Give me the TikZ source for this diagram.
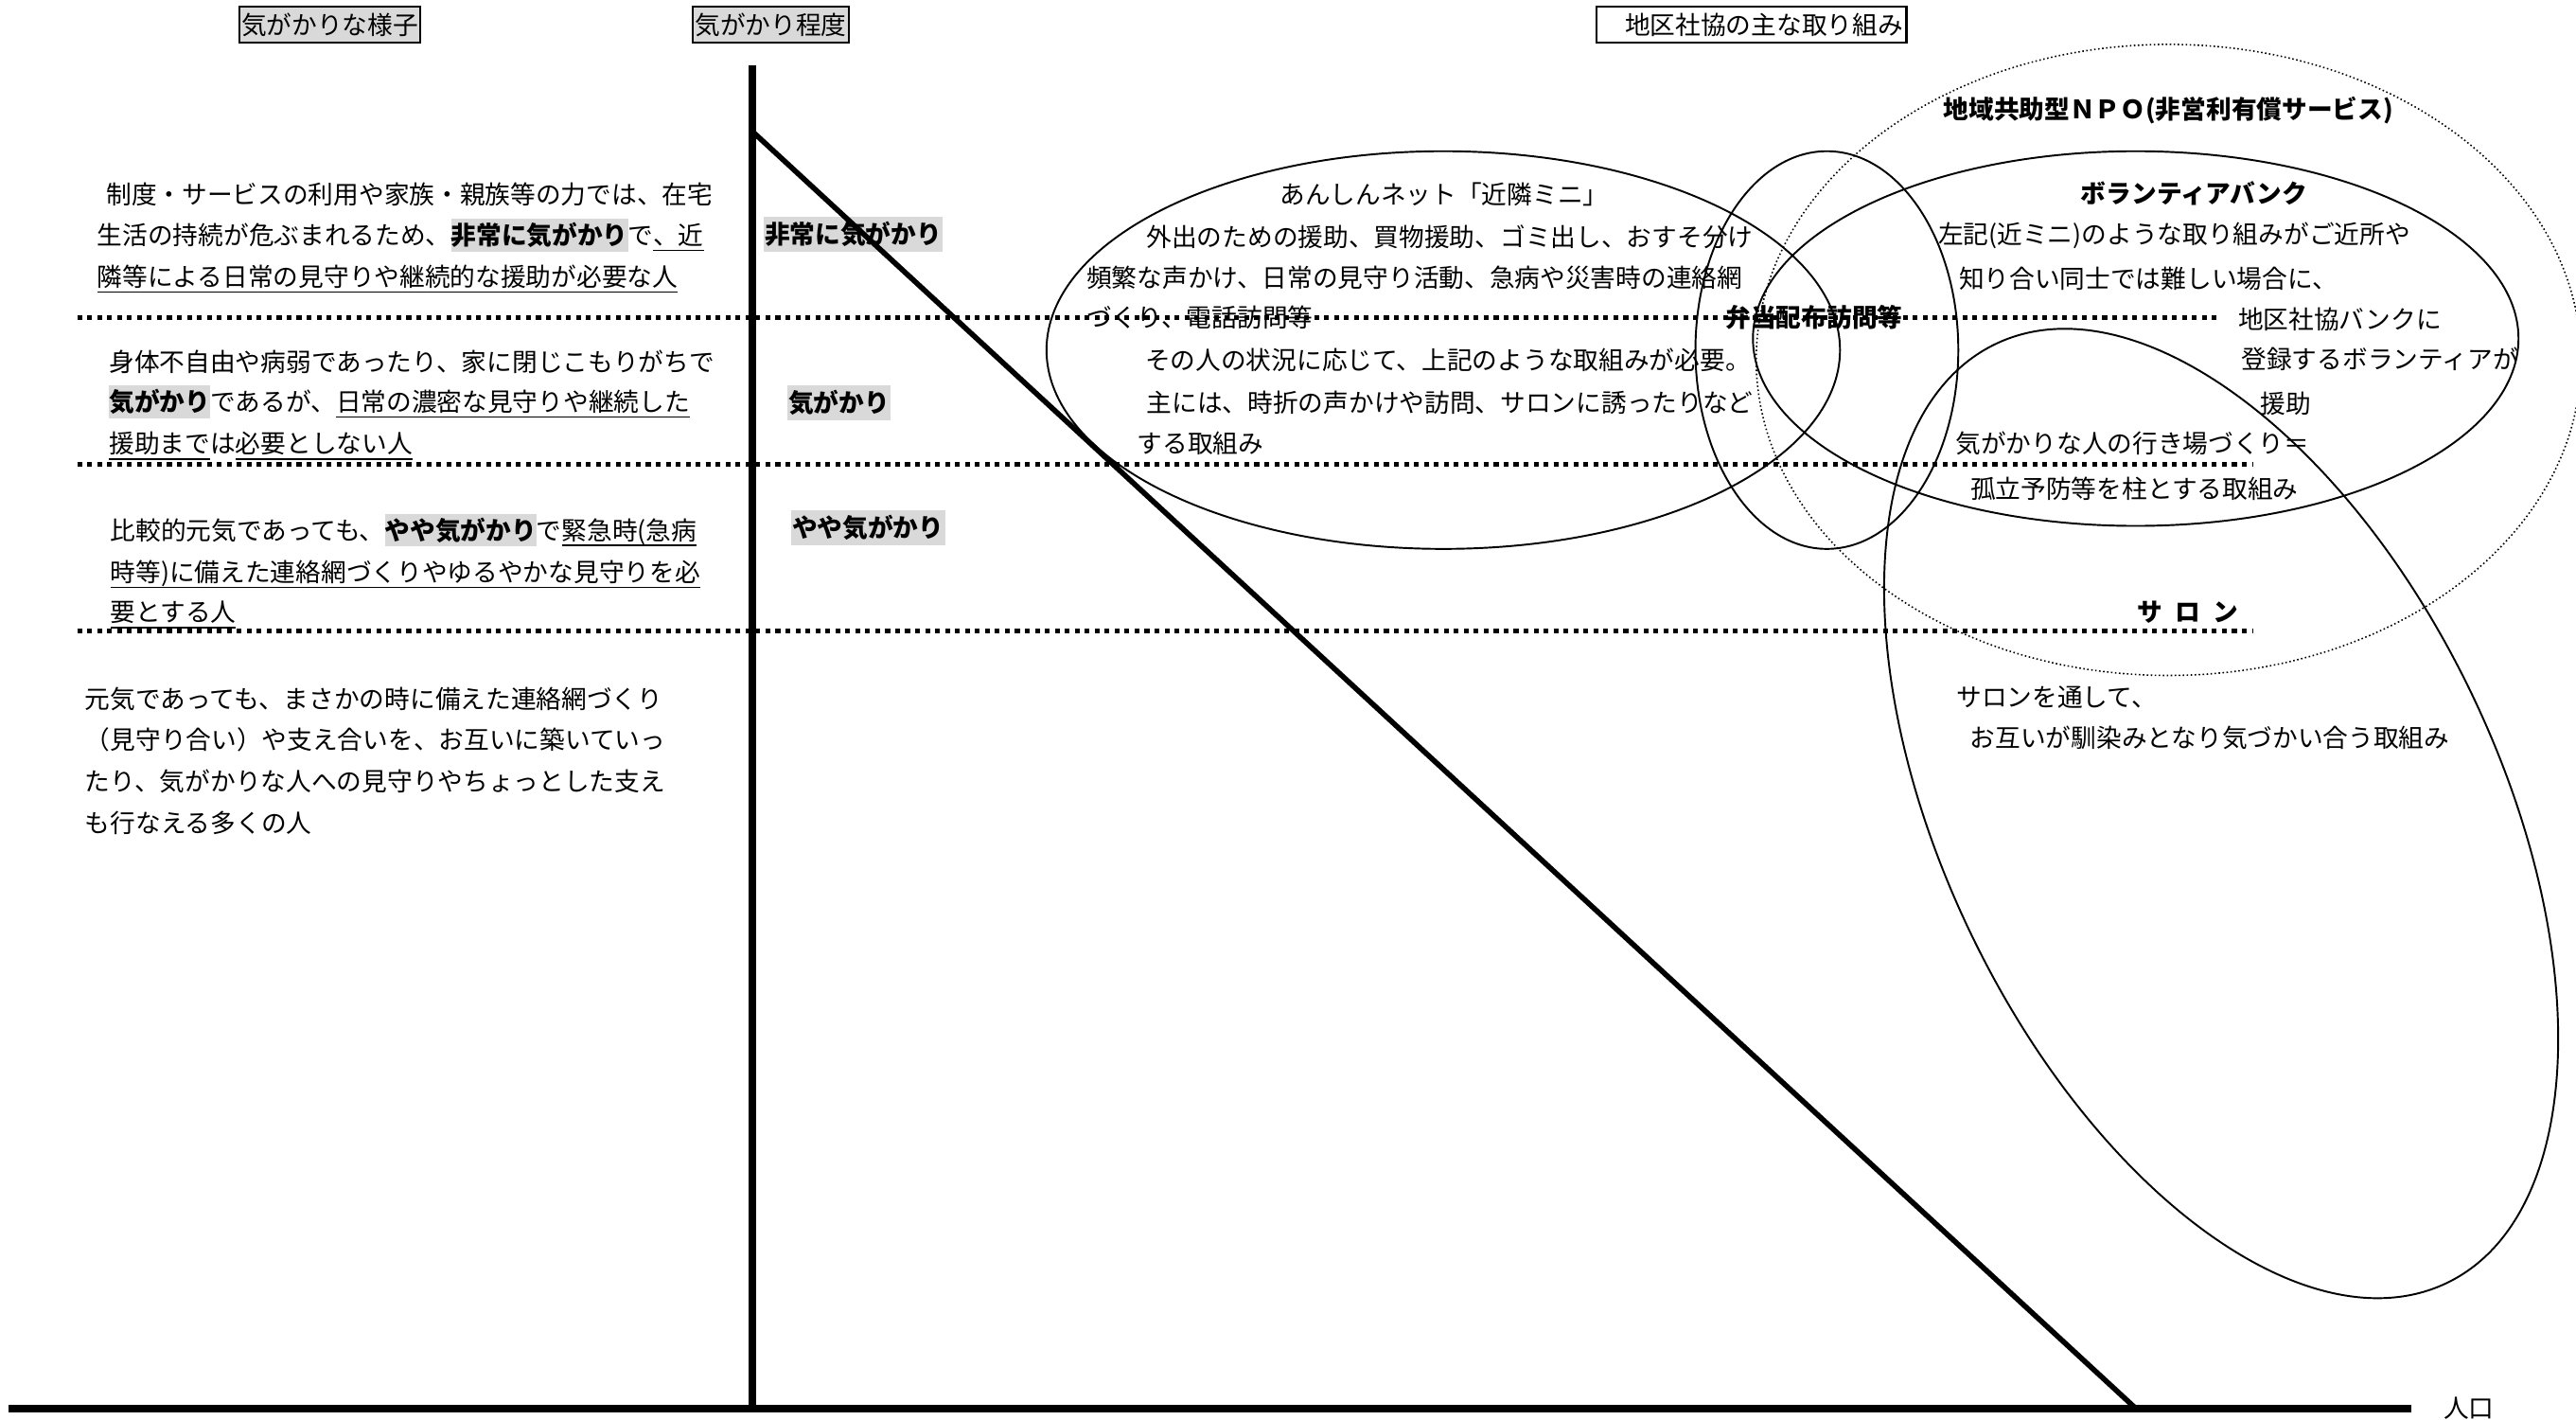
\documentclass[tikz,border=0pt]{standalone}
\usepackage{fontspec}
\setmainfont{Noto Sans CJK JP}
\definecolor{hl}{HTML}{D9D9D9}
\newcommand\ulx[1]{\underline{\smash{#1}\rule[-0.04em]{0pt}{0.85em}}}
\newcommand\hlb[1]{{\setlength\fboxsep{0pt}\colorbox{hl}{\rule[-0.27em]{0pt}{1.29em}\bfseries #1}}}
\begin{document}
\begin{tikzpicture}[x=0.01736cm,y=-0.01736cm,
  txt/.style={inner sep=0pt,anchor=base west,font=\fontsize{7.6pt}{12.6pt}\selectfont},
  txtc/.style={txt,anchor=base},
  bold/.style={font=\fontsize{7.6pt}{12.6pt}\selectfont\bfseries},
  hdr/.style={txt,draw,line width=0.7pt,inner xsep=0.6pt,inner ysep=0pt},
  mid/.style={txt,fill=hl,inner xsep=0.4pt,inner ysep=0pt,font=\fontsize{7.6pt}{12.6pt}\selectfont\bfseries},
  ell/.style={line width=0.55pt},
  sep/.style={line width=1.5pt,dash pattern=on 1.45pt off 1.55pt},
  npo/.style={line width=0.45pt,dash pattern=on 0.45pt off 0.75pt},
  axis/.style={line width=2.2pt},
  diag/.style={line width=1.6pt}]
\useasboundingbox (0,0) rectangle (1568,864);
% headers
\node[hdr,fill=hl] (h1) at (145,20.9) {\rule[-0.335em]{0pt}{1.43em}気がかりな様子};
\node[hdr,fill=hl,inner xsep=0.65pt] (h2) at (421,20.9) {\rule[-0.335em]{0pt}{1.43em}気がかり程度};
\node[hdr,inner xsep=1pt] (h3) at (971,20.9) {\rule[-0.335em]{0pt}{1.43em}　地区社協の主な取り組み};
% middle labels
\node[mid] (m1) at (464.3,148.4) {\rule[-0.30em]{0pt}{1.36em}非常に気がかり};
\node[mid] (m2) at (478.7,250.9) {\rule[-0.30em]{0pt}{1.36em}気がかり\hspace{1em}};
\node[mid] (m3) at (481,326.9) {\rule[-0.30em]{0pt}{1.36em}やや気がかり};
% ellipses
\draw[ell] (878.5,213) ellipse [x radius=241.5, y radius=121];
\draw[ell] (1112,213) ellipse [x radius=80, y radius=121];
\draw[ell] (1300,206) ellipse [x radius=233, y radius=114];
\draw[npo] (1320,219) ellipse [x radius=251, y radius=192];
\draw[ell,rotate around={-64.3:(1352,495)}] (1352,495) ellipse [x radius=317, y radius=169];
% separators
\coordinate (s1a) at (47,193.4); \coordinate (s1b) at (1349,193.4);
\coordinate (s2a) at (47,282.5); \coordinate (s2b) at (1371,282.5);
\coordinate (s3a) at (47,384); \coordinate (s3b) at (1371,384);
\draw[sep] (s1a) -- (s1b);
\draw[sep] (s2a) -- (s2b);
\draw[sep] (s3a) -- (s3b);
% axes
\coordinate (vt) at (458,40); \coordinate (vb) at (458,858);
\coordinate (hl0) at (5,857); \coordinate (hr) at (1468,857);
\coordinate (dt) at (458,80); \coordinate (db) at (1300,857);
\draw[axis] (vt) -- (vb);
\draw[axis] (hl0) -- (hr);
\draw[diag] (dt) -- (db);
\node[txt] (pop) at (1487,862.9) {人口};
% left blocks
\node[txt] (a1) at (64.3,124.4) {制度・サービスの利用や家族・親族等の力では、在宅};
\node[txt] (a2) at (58.8,148.9) {生活の持続が危ぶまれるため、\hlb{非常に気がかり}で\ulx{、近}};
\node[txt] (a3) at (58.8,174.4) {\ulx{隣等による日常の見守りや継続的な援助が必要な人}};
\node[txt] (b1) at (66.1,225.9) {身体不自由や病弱であったり、家に閉じこもりがちで};
\node[txt] (b2) at (66.1,250.4) {\hlb{気がかり}であるが、\ulx{日常の濃密な見守りや継続した}};
\node[txt] (b3) at (66.1,275.9) {\ulx{援助まで}は\ulx{必要としない人}};
\node[txt] (c1) at (66.8,328.4) {比較的元気であっても、\hlb{やや気がかり}で\ulx{緊急時(急病}};
\node[txt] (c2) at (66.8,353.9) {\ulx{時等)に備えた連絡網づくりやゆるやかな見守りを必}};
\node[txt] (c3) at (66.8,378.4) {\ulx{要とする人}};
\node[txt] (d1) at (51.4,430.9) {元気であっても、まさかの時に備えた連絡網づくり};
\node[txt] (d2) at (51.4,455.9) {（見守り合い）や支え合いを、お互いに築いていっ};
\node[txt] (d3) at (51.4,481.4) {たり、気がかりな人への見守りやちょっとした支え};
\node[txt] (d4) at (51.4,506.4) {も行なえる多くの人};
% anshin
\node[txtc] (n0) at (879,123.9) {あんしんネット「近隣ミニ」};
\node[txt] (n1) at (697.5,149.9) {外出のための援助、買物援助、ゴミ出し、おすそ分け};
\node[txt] (n2) at (661,174.9) {頻繁な声かけ、日常の見守り活動、急病や災害時の連絡網};
\node[txt] (n3) at (661,198.9) {づくり、電話訪問等};
\node[txt] (n4) at (696.7,224.9) {その人の状況に応じて、上記のような取組みが必要。};
\node[txt] (n5) at (697.6,250.9) {主には、時折の声かけや訪問、サロンに誘ったりなど};
\node[txt] (n6) at (691.8,275.9) {する取組み};
\node[txt,bold] (bento) at (1050,198.9) {弁当配布訪問等};
% NPO
\node[txt,bold] (npo) at (1182.6,72.4) {地域共助型ＮＰＯ(非営利有償サービス)};
% volunteer bank
\node[txtc,bold] (v0) at (1335.5,123.5) {ボランティアバンク};
\node[txt] (v1) at (1179.4,148.4) {左記(近ミニ)のような取り組みがご近所や};
\node[txt] (v2) at (1192,175.4) {知り合い同士では難しい場合に、};
\node[txt] (v3) at (1362,199.9) {地区社協バンクに};
\node[txt] (v4) at (1364,224.4) {登録するボランティアが};
\node[txt] (v5) at (1375.6,251.4) {援助};
\node[txt] (v6) at (1190,275.9) {気がかりな人の行き場づくり＝};
\node[txt] (v7) at (1199,303.4) {孤立予防等を柱とする取組み};
% salon
\node[txt,bold] (s0) at (1300.6,378.4) {サ\hspace{0.5em}ロ\hspace{0.5em}ン};
\node[txt] (s1) at (1190.5,429.9) {サロンを通して、};
\node[txt] (s2) at (1198.8,454.9) {お互いが馴染みとなり気づかい合う取組み};
\end{tikzpicture}
\end{document}
